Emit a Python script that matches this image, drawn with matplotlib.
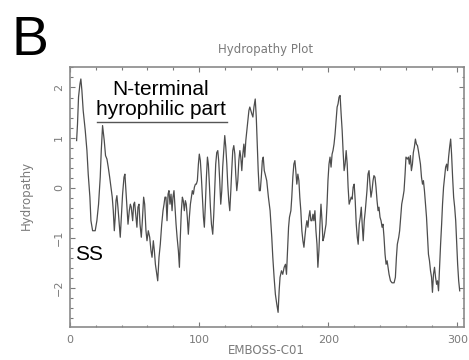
import matplotlib
matplotlib.use("Agg")
import matplotlib.pyplot as plt
from matplotlib.ticker import MultipleLocator

# hydropathy profile (residue position, score)
residue = [
    5.2, 5.9, 6.7, 7.8, 8.5, 9.3, 10.3, 11.9, 13.2, 14.2,
    15.5, 16.3, 17.6, 19.6, 20.9, 22.2, 23.5, 24.3, 25.3, 26.6,
    27.6, 28.7, 29.7, 30.8, 31.8, 32.8, 33.6, 34.4, 35.1, 35.7,
    36.4, 37.2, 38.2, 39.0, 39.8, 40.8, 41.9, 42.6, 43.4, 44.2,
    45.0, 46.0, 46.8, 47.5, 48.6, 49.4, 50.1, 51.2, 51.9, 52.7,
    53.5, 54.3, 55.3, 56.1, 57.1, 57.9, 58.9, 59.7, 60.7, 61.8,
    62.8, 63.6, 64.6, 65.4, 66.2, 66.9, 68.0, 69.0, 70.0, 71.1,
    72.1, 72.9, 73.6,
    74.4, 75.2, 76.0, 76.7, 77.5, 78.3, 79.1, 79.8, 80.6, 81.4,
    82.2, 83.0, 84.0, 84.8, 85.5, 86.3, 87.1, 87.8, 88.6, 89.4,
    90.1, 90.9, 91.7, 92.5, 93.3, 94.1, 94.8, 95.6, 96.4, 97.2,
    97.9, 98.7, 99.5, 100.2, 101.0, 101.8, 102.6, 103.4, 104.1, 104.9,
    105.7, 106.5, 107.2, 108.0, 108.8, 109.6, 110.6, 111.4, 112.1, 112.9,
    113.7, 114.5, 115.2, 116.0, 116.8, 117.6, 118.3, 119.1, 119.9, 120.7,
    121.5, 122.2, 123.0, 123.8, 124.6, 125.3, 126.1, 126.9, 127.7, 128.4,
    129.2, 130.0, 130.8, 131.6, 132.3, 133.1, 133.9, 134.7, 135.4, 136.2,
    137.0, 137.8, 138.6, 139.3, 140.1, 140.9, 141.7, 142.5, 143.5, 144.3,
    145.1, 145.8, 146.6, 147.4, 148.2, 149.0, 149.7, 150.5,
    151.2, 152.4, 153.7, 155.0, 156.3, 157.1, 158.1, 159.1, 160.2, 161.2,
    162.0, 162.7, 163.8, 164.8, 165.9, 166.9, 167.7, 168.5, 169.3, 170.0,
    171.1, 171.8, 172.6, 173.4, 174.2, 174.9, 175.7, 176.5, 177.3, 178.0,
    178.8, 179.6, 180.4, 181.2, 181.9, 182.7, 183.5, 184.3, 185.0, 185.8,
    186.6, 187.4, 188.2, 188.9, 189.7, 190.5, 191.3, 192.0, 192.8, 193.6,
    194.4, 195.2, 195.9, 196.7, 197.5, 198.3, 199.1, 199.8, 200.6, 201.4,
    202.2, 203.0, 203.7, 204.5, 205.3, 206.1, 206.9, 207.6, 208.4, 209.2,
    210.0, 210.8, 211.5, 212.3, 213.1, 213.9, 214.7, 215.4, 216.2, 217.0,
    217.8, 218.5, 219.3, 220.1, 220.9, 221.7, 222.5, 223.2, 224.0, 224.8,
    225.6, 226.3, 227.1, 227.9,
    228.7, 230.0, 230.8, 231.6, 232.3, 233.1, 233.9, 234.7, 235.4, 236.2,
    237.0, 237.8, 238.6, 239.3, 240.1, 240.9, 241.7, 242.4, 243.2, 244.0,
    244.8, 245.6, 246.3, 247.1, 248.2, 249.4, 251.0, 252.0, 252.8, 253.5,
    254.6, 255.3, 256.1, 256.9, 257.9, 258.7, 259.5, 260.2, 261.3, 262.1,
    262.8, 263.6, 264.4, 265.2, 265.9, 266.7, 267.5, 268.3, 269.1, 269.8,
    270.6, 271.4, 272.2, 273.0, 273.7, 274.5, 275.3, 276.1, 276.9, 277.6,
    278.4, 279.2, 280.0, 280.7, 281.5, 282.3, 283.1, 283.9, 284.6, 285.4,
    286.2, 287.0, 287.8, 288.5, 289.3, 290.1, 290.9, 291.7, 292.4, 293.2,
    294.0, 294.8, 295.5, 296.3, 297.1, 297.9, 298.7, 299.5, 300.2, 301.0,
    301.8,
]
hydropathy = [
    0.94, 1.27, 1.81, 2.07, 2.17, 1.94, 1.54, 1.14, 0.74, 0.27,
    -0.19, -0.66, -0.86, -0.86, -0.66, -0.33, 0.21, 0.74, 1.24, 0.94,
    0.64, 0.57, 0.41, 0.21, 0.01, -0.19, -0.46, -0.86, -0.59, -0.26,
    -0.16, -0.39, -0.73, -0.99, -0.59, -0.13, 0.21, 0.27, -0.06, -0.39,
    -0.73, -0.46, -0.33, -0.39, -0.66, -0.33, -0.29, -0.59, -0.79, -0.39,
    -0.33, -0.73, -0.99, -0.66, -0.19, -0.33, -0.86, -1.06, -0.86, -0.99,
    -1.26, -1.39, -1.06, -1.26, -1.53, -1.66, -1.86, -1.39, -1.13, -0.73,
    -0.46, -0.33, -0.19,
    -0.19, -0.66, -0.13, -0.06, -0.33, -0.13, -0.46, -0.19, -0.06, -0.39,
    -0.73, -0.99, -1.26, -1.59, -0.99, -0.46, -0.19, -0.26, -0.46, -0.26,
    -0.33, -0.59, -0.93, -0.59, -0.33, -0.19, -0.06, -0.13, 0.01, 0.07,
    0.07, 0.14, 0.47, 0.67, 0.54, 0.21, -0.19, -0.59, -0.79, -0.33,
    0.21, 0.61, 0.47, 0.07, -0.39, -0.73, -0.93, -0.53, -0.06, 0.47,
    0.70, 0.74, 0.54, 0.14, -0.33, -0.06, 0.41, 0.74, 1.04, 0.81,
    0.47, 0.07, -0.26, -0.46, -0.06, 0.34, 0.74, 0.84, 0.67, 0.27,
    -0.06, 0.14, 0.54, 0.74, 0.61, 0.34, 0.67, 0.87, 0.61, 0.94,
    1.14, 1.34, 1.54, 1.61, 1.54, 1.47, 1.41, 1.61, 1.77, 1.41,
    0.87, 0.34, -0.06, -0.06, 0.21, 0.54, 0.61, 0.34,
    0.27, 0.14, -0.19, -0.46, -0.99, -1.39, -1.79, -2.13, -2.33, -2.49,
    -2.06, -1.79, -1.66, -1.73, -1.59, -1.53, -1.73, -1.26, -0.79, -0.59,
    -0.46, -0.19, 0.21, 0.47, 0.54, 0.34, 0.07, 0.27, 0.14, -0.19,
    -0.46, -0.86, -1.06, -1.19, -0.99, -0.79, -0.66, -0.79, -0.59, -0.46,
    -0.66, -0.66, -0.53, -0.66, -0.46, -0.86, -1.13, -1.59, -1.26, -0.73,
    -0.33, -0.66, -1.06, -0.99, -0.86, -0.73, -0.33, 0.14, 0.47, 0.61,
    0.41, 0.67, 0.74, 0.87, 1.07, 1.34, 1.61, 1.67, 1.81, 1.84,
    1.47, 1.14, 0.74, 0.34, 0.47, 0.74, 0.47, 0.01, -0.33, -0.26,
    -0.19, -0.23, 0.01, 0.07, -0.26, -0.73, -0.99, -1.13, -0.73, -0.59,
    -0.39, -0.73, -1.06, -0.66,
    -0.46, -0.06, 0.27, 0.34, 0.07, -0.19, -0.06, 0.14, 0.24, 0.21,
    0.01, -0.26, -0.46, -0.39, -0.59, -0.66, -0.79, -0.73, -0.99, -1.33,
    -1.53, -1.46, -1.59, -1.73, -1.86, -1.90, -1.90, -1.79, -1.39, -1.13,
    -0.99, -0.86, -0.59, -0.33, -0.19, -0.06, 0.27, 0.61, 0.57, 0.61,
    0.47, 0.64, 0.34, 0.47, 0.70, 0.81, 0.97, 0.87, 0.84, 0.74,
    0.61, 0.47, 0.21, 0.07, 0.14, -0.06, -0.33, -0.59, -0.99, -1.33,
    -1.46, -1.66, -1.79, -2.09, -1.73, -1.59, -1.79, -1.93, -1.86, -2.06,
    -1.59, -1.13, -0.73, -0.33, 0.01, 0.21, 0.41, 0.47, 0.34, 0.61,
    0.81, 0.97, 0.67, 0.21, -0.19, -0.39, -0.66, -1.13, -1.53, -1.86,
    -2.06,
]

x_ticks = [0, 100, 200, 300]
y_ticks = [-2, -1, 0, 1, 2]

# N-terminal region bracket (residues) and its height
nterm_start, nterm_end = 21, 122
nterm_y = 1.31

gray = '#7a7a7a'
label_font = ['Liberation Sans', 'DejaVu Sans']

fig = plt.figure(figsize=(4.69, 3.6), dpi=100)
ax = fig.add_axes([0.149, 0.092, 0.840, 0.722])

ax.plot(residue, hydropathy, color='#4d4d4d', lw=0.9)
ax.plot([nterm_start, nterm_end], [nterm_y, nterm_y], color='#555555', lw=1.0)

ax.set_xlim(0, 305)
ax.set_ylim(-2.78, 2.41)
ax.set_xticks(x_ticks)
ax.set_yticks(y_ticks)
ax.xaxis.set_minor_locator(MultipleLocator(20))
ax.yaxis.set_minor_locator(MultipleLocator(0.2))
ax.tick_params(which='both', direction='in', top=True, right=True,
               color=gray, labelcolor=gray, labelsize=8)
ax.tick_params(which='major', length=3.6, width=0.8)
ax.tick_params(which='minor', length=1.8, width=0.8)
ax.tick_params(axis='x', pad=6)
ax.tick_params(axis='y', pad=4)
plt.setp(ax.get_yticklabels(), rotation=90, va='center')
for s in ax.spines.values():
    s.set_color('#8a8a8a')
    s.set_linewidth(1.2)

# annotations
ax.text(70.5, 1.46, 'N-terminal\nhyrophilic part', ha='center', va='baseline',
        multialignment='center', linespacing=1.02,
        fontsize=15, family=label_font, color='black')
ax.text(4, -1.45, 'SS', ha='left', va='baseline',
        fontsize=15, family=label_font, color='black')

fig.text(12 / 469, 1 - 55 / 360, 'B', ha='left', va='baseline',
         fontsize=40, family=['Liberation Sans Narrow', 'Liberation Sans'])
fig.text(266 / 469, 1 - 49 / 360, 'Hydropathy Plot', ha='center', va='center',
         fontsize=8.5, color=gray)
fig.text(266 / 469, 1 - 351 / 360, 'EMBOSS-C01', ha='center', va='center',
         fontsize=8.5, color=gray)
fig.text(26 / 469, 1 - 195 / 360, 'Hydropathy', ha='center', va='center',
         rotation=90, fontsize=8.5, color=gray)

fig.savefig('out.png', dpi=100)
plt.close(fig)
